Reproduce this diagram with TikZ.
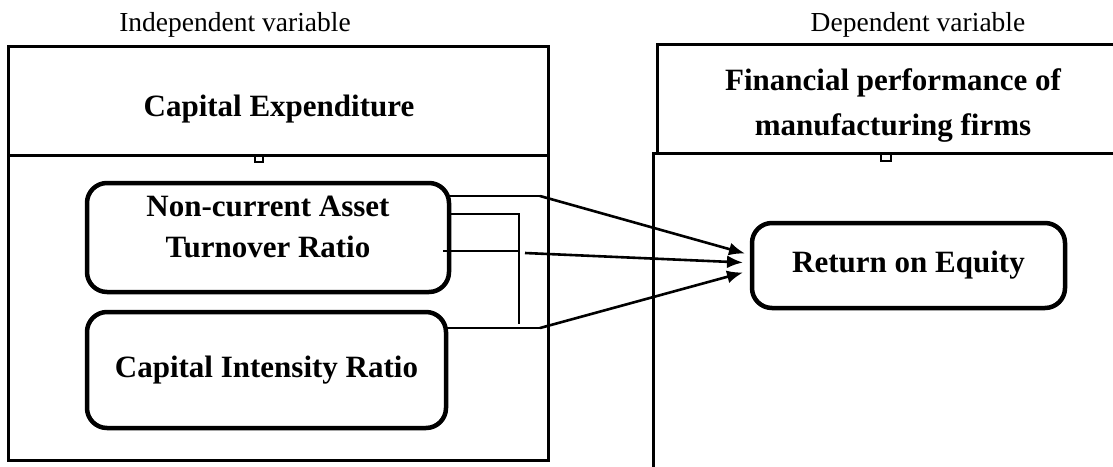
\documentclass[tikz,border=0pt]{standalone}
\usepackage{fontspec}
\setmainfont{Liberation Serif}
\usetikzlibrary{arrows.meta}

\begin{document}
\begin{tikzpicture}[x=1pt,y=-1pt]
    \tikzstyle{label}=[fill=none, draw=none, inner sep=0pt, font=\fontsize{27.5}{30}\selectfont]
    \tikzstyle{title}=[fill=none, draw=none, inner sep=0pt, align=center]
    \tikzstyle{panel}=[draw, line width=3pt, shape=rectangle, inner sep=0pt, outer sep=0pt]
    \tikzstyle{measure}=[draw, line width=4.5pt, shape=rectangle, rounded corners=20pt,
        inner sep=0pt, outer sep=0pt]
    \tikzstyle{tick}=[draw, line width=2pt]
    \tikzstyle{link}=[line width=1.6pt]
    \tikzstyle{arrow}=[line width=2.6pt, -{Latex[length=16pt,width=13pt]}]

    \useasboundingbox (0,0) rectangle (1113,466);

    % headings
    \node [style=label] (indep) at (235,25) {Independent variable};
    \node [style=label] (dep) at (918,25) {Dependent variable};

    % independent variable panel
    \node [style=panel, minimum width=540pt, minimum height=109pt] (capex) at (278,100.5) {};
    \node [style=panel, minimum width=540pt, minimum height=305pt, anchor=north] (capexbody) at (capex.south) {};
    \node [style=title, font=\bfseries\fontsize{31}{44}\selectfont] (capextext) at (279,109) {Capital Expenditure};
    \draw [style=tick] (255,155) rectangle (263,162);

    % dependent variable panel
    \node [style=panel, minimum width=468pt, minimum height=109pt] (perf) at (891,98.5) {};
    \node [style=title, font=\bfseries\fontsize{31}{45}\selectfont] (perftext) at (893,105.5) {Financial performance of\\manufacturing firms};
    \draw [line width=3pt] (653,470) -- (653,153) -- (1120,153);
    \draw [style=tick] (881,153) rectangle (891,161);

    % measures
    \node [style=measure, minimum width=362pt, minimum height=109pt] (nca) at (268,237.5) {};
    \node [style=title, font=\bfseries\fontsize{31}{41}\selectfont] (ncatext) at (268,227) {Non-current Asset\\Turnover Ratio};
    \node [style=measure, minimum width=359pt, minimum height=116pt] (cir) at (266.5,370) {};
    \node [style=title, font=\bfseries\fontsize{31}{41}\selectfont] (cirtext) at (266.5,370) {Capital Intensity Ratio};
    \node [style=measure, minimum width=313pt, minimum height=85pt] (roe) at (908.5,265.5) {};
    \node [style=title, font=\bfseries\fontsize{31}{41}\selectfont] (roetext) at (908.5,265) {Return on Equity};

    % connector junctions
    \coordinate (j1) at (540,196);
    \coordinate (j2) at (519,214);
    \coordinate (j3) at (519,324);
    \coordinate (j4) at (519,251);
    \coordinate (j5) at (525,253);
    \coordinate (j6) at (540,328);
    \coordinate (t1) at ([xshift=-7pt,yshift=12pt]roe.west);
    \coordinate (t2) at ([xshift=-9pt,yshift=3pt]roe.west);
    \coordinate (t3) at ([xshift=-9pt,yshift=-7pt]roe.west);

    \draw [style=link] (nca.east |- j1) to (j1);
    \draw [style=link] (nca.east |- j2) to (j2) to (j3);
    \draw [style=link] ([xshift=-6pt]nca.east |- j4) to (j4);
    \draw [style=link] (cir.east |- j6) to (j6);

    \draw [style=arrow] (j1) to (t1);
    \draw [style=arrow] (j5) to (t2);
    \draw [style=arrow] (j6) to (t3);
\end{tikzpicture}
\end{document}
